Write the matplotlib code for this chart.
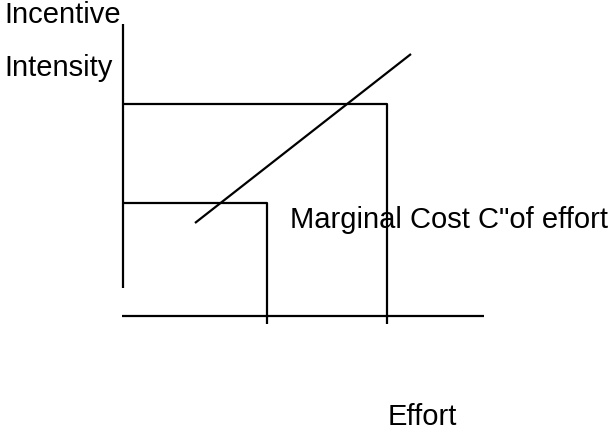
import matplotlib.pyplot as plt

# diagram geometry, in pixel units of the 614x432 canvas (y grows downward)
axis_x = [123, 123]
axis_y = [24, 288]
base_x = [122, 484]
base_y = [316, 316]

# upper incentive level and its effort
hi_x = [123, 387, 387]
hi_y = [104, 104, 324]
# lower incentive level and its effort
lo_x = [123, 267, 267]
lo_y = [203, 203, 324]

# marginal cost line
mc_x = [195, 411]
mc_y = [223, 54]

labels = ["Incentive", "Intensity", "Marginal Cost C\"of effort", "Effort"]
label_x = [4, 4, 290, 388]
label_y = [23, 76, 228, 425]

fig = plt.figure(figsize=(6.14, 4.32), dpi=100)
ax = fig.add_axes([0, 0, 1, 1])
ax.set_xlim(0, 614)
ax.set_ylim(432, 0)
ax.axis("off")

for xs, ys in [(axis_x, axis_y), (base_x, base_y), (hi_x, hi_y), (lo_x, lo_y), (mc_x, mc_y)]:
    ax.plot(xs, ys, color="black", lw=1.6, solid_capstyle="butt")

for t, x, y in zip(labels, label_x, label_y):
    ax.text(x, y, t, fontsize=21, family="Liberation Sans", ha="left", va="baseline")

fig.savefig("out.png", dpi=100)
